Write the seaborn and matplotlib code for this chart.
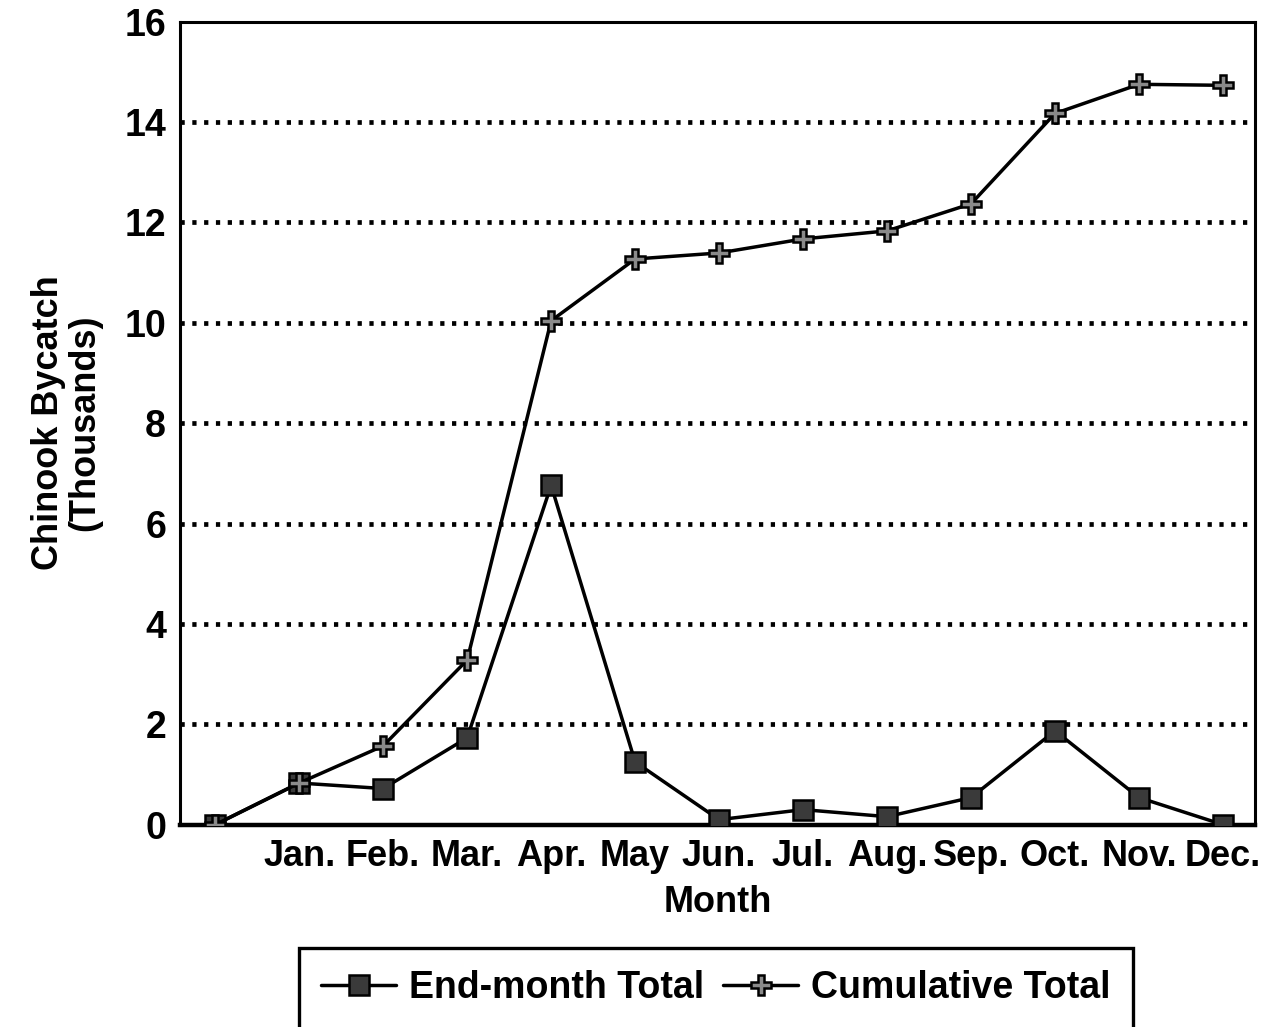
import numpy as np
import pandas as pd
import matplotlib
matplotlib.use("Agg")
import matplotlib.pyplot as plt
import seaborn as sns

# 数据 (thousands of chinook)
months = ["", "Jan.", "Feb.", "Mar.", "Apr.", "May", "Jun.", "Jul.", "Aug.", "Sep.", "Oct.", "Nov.", "Dec."]
end_month = [0.0, 0.83, 0.72, 1.73, 6.76, 1.25, 0.10, 0.30, 0.16, 0.54, 1.87, 0.54, 0.0]
cumulative = [0.0, 0.83, 1.57, 3.28, 10.04, 11.27, 11.39, 11.67, 11.83, 12.37, 14.17, 14.75, 14.73]
y_ticks = [0, 2, 4, 6, 8, 10, 12, 14, 16]

sns.set_style("white")
plt.rcParams.update({
    "font.family": ["Liberation Sans", "DejaVu Sans"],
    "font.weight": "bold",
    "axes.labelweight": "bold",
    "text.color": "black",
    "axes.labelcolor": "black",
    "xtick.color": "black",
    "ytick.color": "black",
    "axes.linewidth": 2.2,
})

pos = np.arange(len(months))
df = pd.DataFrame({"pos": pos, "end": end_month, "cum": cumulative})

fig = plt.figure(figsize=(12.76, 10.27), dpi=100)
ax = fig.add_axes([0.141, 0.197, 0.8425, 0.782])

# 虚线网格
for yv in y_ticks[1:-1]:
    ax.axhline(yv, color="black", linestyle=(0, (0.9, 1.6)), linewidth=3.4, zorder=1)

sns.lineplot(data=df, x="pos", y="end", ax=ax, color="black", linewidth=2.5,
             marker="s", markersize=15, markerfacecolor="#3a3a3a",
             markeredgecolor="black", markeredgewidth=1.8, label="End-month Total", zorder=3)
sns.lineplot(data=df, x="pos", y="cum", ax=ax, color="black", linewidth=2.5,
             marker="P", markersize=15, markerfacecolor="#8a8a8a",
             markeredgecolor="black", markeredgewidth=1.8, label="Cumulative Total", zorder=3)

ax.set_xlim(-0.42, 12.38)
ax.set_ylim(0, 16)
ax.set_xticks(pos[1:])
ax.set_xticklabels(months[1:], fontsize=26)
ax.set_yticks(y_ticks)
ax.set_yticklabels([str(v) for v in y_ticks], fontsize=27)
ax.tick_params(axis="both", direction="out", length=8, width=1.8, color="black", pad=2)
for sp in ax.spines.values():
    sp.set_color("black")
    sp.set_visible(True)
ax.spines["bottom"].set_linewidth(3.2)

ax.set_xlabel("Month", fontsize=26, labelpad=8)
ax.set_ylabel("Chinook Bycatch\n(Thousands)", fontsize=26, labelpad=16, linespacing=1.05)

ax.get_legend().remove()
h, l = ax.get_legend_handles_labels()
leg = fig.legend(h, l, loc="upper center", bbox_to_anchor=(0.561, 0.077), ncol=2,
                 fontsize=27, frameon=True, fancybox=False, edgecolor="black",
                 framealpha=1, handlelength=2.0, handletextpad=0.35, columnspacing=0.5,
                 borderpad=0.6, borderaxespad=0)
leg.get_frame().set_linewidth(2.4)

fig.savefig("out.png", dpi=100, facecolor="white")
